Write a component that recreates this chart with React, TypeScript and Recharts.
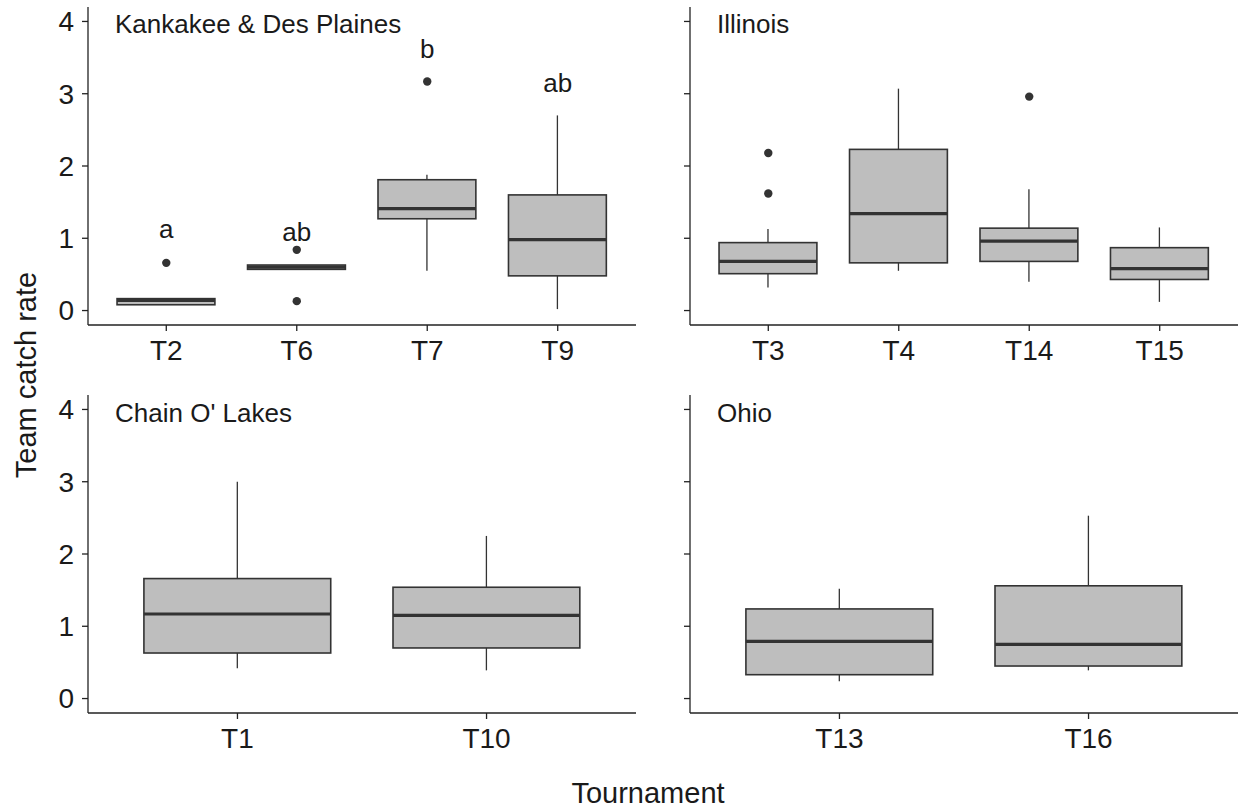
import { Bar, ComposedChart, Line, XAxis, YAxis } from "recharts";

// each tournament: [lower whisker, q1, median, q3, upper whisker]
const kankakeeCats = ["T2", "T6", "T7", "T9"];
const kankakeeStats = [
  [0.08, 0.08, 0.14, 0.165, 0.165],
  [0.57, 0.57, 0.6, 0.63, 0.63],
  [0.55, 1.27, 1.41, 1.81, 1.88],
  [0.02, 0.48, 0.98, 1.6, 2.7],
];
const kankakeeOutliers = [[0.66], [0.84, 0.13], [3.17], []];
const kankakeeLetters = ["a", "ab", "b", "ab"];
const kankakeeLetterY = [1.0, 0.96, 3.49, 3.03];

const illinoisCats = ["T3", "T4", "T14", "T15"];
const illinoisStats = [
  [0.32, 0.51, 0.68, 0.94, 1.13],
  [0.55, 0.66, 1.34, 2.23, 3.07],
  [0.4, 0.68, 0.96, 1.14, 1.68],
  [0.12, 0.43, 0.58, 0.87, 1.15],
];
const illinoisOutliers = [[2.18, 1.62], [], [2.96], []];

const chainCats = ["T1", "T10"];
const chainStats = [
  [0.42, 0.63, 1.17, 1.66, 3.0],
  [0.39, 0.7, 1.15, 1.54, 2.25],
];

const ohioCats = ["T13", "T16"];
const ohioStats = [
  [0.24, 0.33, 0.79, 1.24, 1.52],
  [0.39, 0.45, 0.75, 1.56, 2.53],
];

const yTicks = [0, 1, 2, 3, 4];

const FONT = "'Liberation Sans', Arial, sans-serif";
const INK = "#333333";
const TEXT = "#1a1a1a";
const PLOT_W = 548;

type Row = {
  name: string;
  whisker: number[];
  box: number[];
  q1: number;
  med: number;
  q3: number;
  out1?: number;
  out2?: number;
  letter?: string;
  letterY?: number;
};

function buildRows(cats: string[], stats: number[][], outliers?: number[][], letters?: string[], letterY?: number[]): Row[] {
  return cats.map((name, i) => {
    const [lo, q1, med, q3, hi] = stats[i];
    const outs = outliers?.[i] ?? [];
    return {
      name,
      whisker: [lo, hi],
      box: [q1, q3],
      q1,
      med,
      q3,
      out1: outs[0],
      out2: outs[1],
      letter: letters?.[i],
      letterY: letterY?.[i],
    };
  });
}

const renderWhisker = (p: any) => {
  const top = Math.min(p.y, p.y + p.height);
  const bottom = Math.max(p.y, p.y + p.height);
  const cx = p.x + p.width / 2;
  return <line x1={cx} x2={cx} y1={top} y2={bottom} stroke={INK} strokeWidth={1.3} />;
};

const renderBox = (p: any) => {
  const top = Math.min(p.y, p.y + p.height);
  const h = Math.abs(p.height);
  const { q1, med, q3 } = p.payload as Row;
  const medY = top + (h * (q3 - med)) / (q3 - q1);
  return (
    <g>
      <rect x={p.x} y={top} width={p.width} height={h} fill="#bebebe" stroke={INK} strokeWidth={1.6} />
      <line x1={p.x} x2={p.x + p.width} y1={medY} y2={medY} stroke={INK} strokeWidth={3.2} />
    </g>
  );
};

const renderOutlier = (p: any) => {
  if (p.value == null || !Number.isFinite(p.cy)) return <g key={`o-${p.index}`} />;
  return <circle key={`o-${p.index}`} cx={p.cx} cy={p.cy} r={4.2} fill={INK} />;
};

const renderLetter = (p: any) => {
  if (p.value == null || !Number.isFinite(p.cy)) return <g key={`l-${p.index}`} />;
  return (
    <text key={`l-${p.index}`} x={p.cx} y={p.cy} textAnchor="middle" fontSize={26} fill={TEXT} fontFamily={FONT}>
      {p.payload.letter}
    </text>
  );
};

const axisLine = { stroke: "#222", strokeWidth: 1.3 };

type PanelProps = { rows: Row[]; left: number; top: number; yLabels: boolean };

function Panel({ rows, left, top, yLabels }: PanelProps) {
  // discrete scale: 0.6 of a category step is left empty on each side
  const unit = PLOT_W / (rows.length + 0.2);
  const pad = unit * 0.1;
  const barSize = unit * 0.75;
  const hasOutliers = rows.some((r) => r.out1 != null);
  const hasLetters = rows.some((r) => r.letter != null);
  return (
    <div style={{ position: "absolute", left, top }}>
      <ComposedChart
        width={yLabels ? 640 : 600}
        height={380}
        data={rows}
        margin={{ top: 7, right: yLabels ? 4 : 2, bottom: 0, left: 0 }}
      >
        <XAxis xAxisId="w" dataKey="name" hide padding={{ left: pad, right: pad }} />
        <XAxis
          xAxisId="b"
          dataKey="name"
          height={55}
          padding={{ left: pad, right: pad }}
          tickSize={6}
          tickMargin={9}
          axisLine={axisLine}
          tickLine={axisLine}
          tick={{ fill: TEXT, fontSize: 28, fontFamily: FONT }}
        />
        <YAxis
          type="number"
          domain={[-0.2, 4.2]}
          ticks={yTicks}
          width={yLabels ? 88 : 50}
          tickSize={6}
          tickMargin={8}
          axisLine={axisLine}
          tickLine={axisLine}
          tickFormatter={yLabels ? undefined : () => ""}
          tick={{ fill: TEXT, fontSize: 28, fontFamily: FONT }}
        />
        <Bar xAxisId="w" dataKey="whisker" barSize={barSize} shape={renderWhisker} isAnimationActive={false} />
        <Bar xAxisId="b" dataKey="box" barSize={barSize} shape={renderBox} isAnimationActive={false} />
        {hasOutliers && (
          <Line xAxisId="b" dataKey="out1" stroke="none" dot={renderOutlier} activeDot={false} isAnimationActive={false} />
        )}
        {hasOutliers && (
          <Line xAxisId="b" dataKey="out2" stroke="none" dot={renderOutlier} activeDot={false} isAnimationActive={false} />
        )}
        {hasLetters && (
          <Line xAxisId="b" dataKey="letterY" stroke="none" dot={renderLetter} activeDot={false} isAnimationActive={false} />
        )}
      </ComposedChart>
    </div>
  );
}

const kankakeeRows = buildRows(kankakeeCats, kankakeeStats, kankakeeOutliers, kankakeeLetters, kankakeeLetterY);
const illinoisRows = buildRows(illinoisCats, illinoisStats, illinoisOutliers);
const chainRows = buildRows(chainCats, chainStats);
const ohioRows = buildRows(ohioCats, ohioStats);

export default function App() {
  const titleStyle = { fontSize: 26, fill: TEXT, fontFamily: FONT };
  return (
    <div style={{ position: "absolute", left: 0, top: 0, width: 1241, height: 809, background: "#fff", fontFamily: FONT }}>
      <Panel rows={kankakeeRows} left={0} top={0} yLabels />
      <Panel rows={illinoisRows} left={640} top={0} yLabels={false} />
      <Panel rows={chainRows} left={0} top={388} yLabels />
      <Panel rows={ohioRows} left={640} top={388} yLabels={false} />
      <svg width={1241} height={809} style={{ position: "absolute", left: 0, top: 0, pointerEvents: "none" }}>
        <text x={115} y={33} {...titleStyle}>Kankakee &amp; Des Plaines</text>
        <text x={717} y={33} {...titleStyle}>Illinois</text>
        <text x={115} y={422} {...titleStyle}>Chain O' Lakes</text>
        <text x={717} y={422} {...titleStyle}>Ohio</text>
        <text x={648} y={803} textAnchor="middle" fontSize={29} fill={TEXT} fontFamily={FONT}>
          Tournament
        </text>
        <text
          x={36}
          y={375}
          textAnchor="middle"
          fontSize={29}
          fill={TEXT}
          fontFamily={FONT}
          transform="rotate(-90 36 375)"
        >
          Team catch rate
        </text>
      </svg>
    </div>
  );
}
